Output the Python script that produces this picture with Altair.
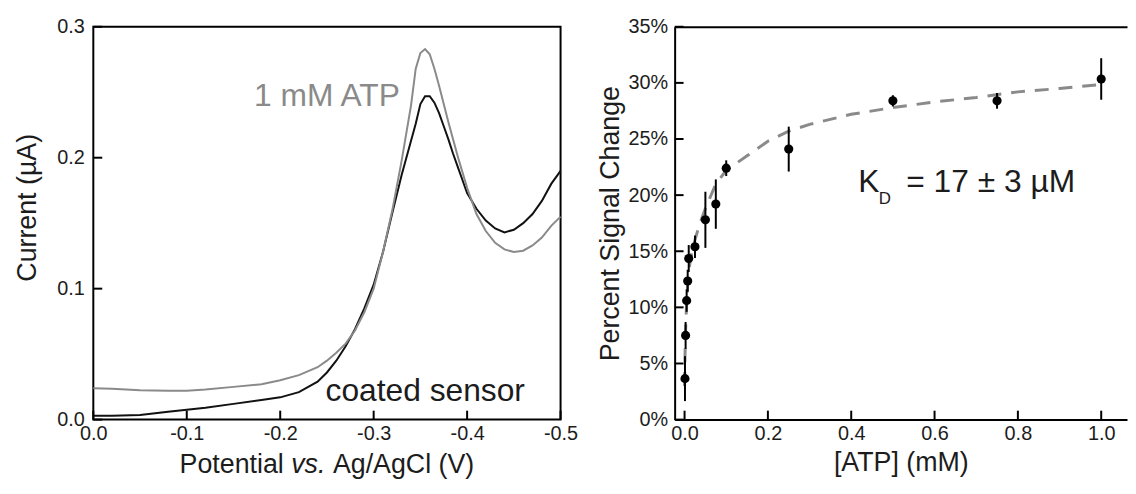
import altair as alt
import pandas as pd

FONT = "Liberation Sans"
INK = "#1c1c1c"
GRAY = "#8a8a8a"

# ---------------- left panel: voltammograms ----------------
atp_potential = [0.0, -0.02, -0.05, -0.08, -0.10, -0.12, -0.15, -0.18, -0.20, -0.22,
                 -0.24, -0.25, -0.26, -0.27, -0.28, -0.29, -0.30, -0.31, -0.32, -0.33,
                 -0.34, -0.345, -0.35, -0.355, -0.36, -0.365, -0.37, -0.375, -0.38, -0.385,
                 -0.39, -0.395, -0.40, -0.41, -0.42, -0.43, -0.44, -0.45, -0.46, -0.47,
                 -0.48, -0.49, -0.50]
atp_current = [0.024, 0.0235, 0.0225, 0.022, 0.022, 0.023, 0.025, 0.027, 0.030, 0.034,
               0.040, 0.045, 0.051, 0.058, 0.068, 0.082, 0.100, 0.128, 0.160, 0.198,
               0.240, 0.268, 0.280, 0.283, 0.279, 0.268, 0.255, 0.241, 0.227, 0.214,
               0.201, 0.189, 0.177, 0.157, 0.144, 0.135, 0.130, 0.128, 0.129, 0.133,
               0.139, 0.148, 0.155]

coated_potential = atp_potential
coated_current = [0.003, 0.003, 0.0035, 0.006, 0.0075, 0.009, 0.012, 0.015, 0.017, 0.021,
                  0.029, 0.036, 0.045, 0.056, 0.069, 0.085, 0.103, 0.128, 0.158, 0.187,
                  0.213, 0.226, 0.241, 0.247, 0.247, 0.242, 0.234, 0.224, 0.214, 0.203,
                  0.193, 0.183, 0.173, 0.161, 0.152, 0.146, 0.143, 0.145, 0.150, 0.157,
                  0.167, 0.180, 0.190]

left_x_ticks = [0.0, -0.1, -0.2, -0.3, -0.4, -0.5]
left_y_ticks = [0.0, 0.1, 0.2, 0.3]

# ---------------- right panel: binding curve ----------------
atp_conc = [0.001, 0.0025, 0.005, 0.0075, 0.01, 0.025, 0.05, 0.075, 0.1, 0.25, 0.5, 0.75, 1.0]
signal_change = [3.65, 7.5, 10.6, 12.35, 14.35, 15.4, 17.8, 19.2, 22.4, 24.1, 28.4, 28.4, 30.35]
signal_err = [2.0, 1.2, 1.0, 1.0, 1.2, 1.0, 2.5, 2.2, 0.7, 2.0, 0.5, 0.7, 1.85]

fit_conc = [0.0, 0.001, 0.0025, 0.005, 0.0075, 0.01, 0.015, 0.02, 0.025, 0.035, 0.05,
            0.075, 0.1, 0.15, 0.2, 0.25, 0.3, 0.4, 0.5, 0.6, 0.7, 0.8, 0.9, 1.0]
fit_signal = [3.0, 5.5, 8.0, 10.5, 12.0, 13.2, 14.5, 15.3, 16.0, 17.3, 18.8,
              21.0, 22.2, 23.5, 24.8, 25.7, 26.3, 27.2, 27.8, 28.3, 28.7, 29.2, 29.5, 29.85]

right_x_ticks = [0.0, 0.2, 0.4, 0.6, 0.8, 1.0]
right_y_ticks = [0, 5, 10, 15, 20, 25, 30, 35]

# ---------------- tables ----------------
df_atp = pd.DataFrame({"E": atp_potential, "I": atp_current})
df_coated = pd.DataFrame({"E": coated_potential, "I": coated_current})
df_pts = pd.DataFrame({"c": atp_conc, "s": signal_change, "e": signal_err})
df_pts["lo"] = df_pts["s"] - df_pts["e"]
df_pts["hi"] = df_pts["s"] + df_pts["e"]
df_fit = pd.DataFrame({"c": fit_conc, "s": fit_signal})

df_lxt = pd.DataFrame({"v": left_x_ticks})
df_lyt = pd.DataFrame({"v": left_y_ticks})
df_rxt = pd.DataFrame({"v": right_x_ticks})
df_ryt = pd.DataFrame({"v": right_y_ticks})

lab_atp = pd.DataFrame({"E": [-0.328], "I": [0.2394], "t": ["1 mM ATP"]})
lab_coated = pd.DataFrame({"E": [-0.2485], "I": [0.0144], "t": ["coated sensor"]})
lab_k = pd.DataFrame({"c": [0.4167], "s": [20.25], "t": ["K"]})
lab_d = pd.DataFrame({"c": [0.466], "s": [19.2], "t": ["D"]})
lab_rest = pd.DataFrame({"c": [0.532], "s": [20.25], "t": ["= 17 ± 3 µM"]})

# x-axis title of the left panel, in three pieces ("vs." is italic)
ttl_a = pd.DataFrame({"t": ["Potential"]})
ttl_b = pd.DataFrame({"t": ["vs."]})
ttl_c = pd.DataFrame({"t": ["Ag/AgCl (V)"]})

LW, LH = 471, 396
RW = 456
X_MIN_R = -0.0238
TITLE_FS = 27

common = dict(grid=False, labelFont=FONT, titleFont=FONT, labelColor=INK, titleColor=INK,
              labelFontSize=20, titleFontSize=TITLE_FS, titleFontWeight="normal")

TICK = 9

# ---- left ----
xL = alt.Scale(domain=[-0.5, 0], reverse=True, nice=False, zero=False)
yL = alt.Scale(domain=[0, 0.3], nice=False, zero=False)

lx_main = alt.Axis(orient="bottom", values=left_x_ticks,
                   labelExpr="datum.value == 0 ? '0.0' : '-' + format(abs(datum.value), '.1f')",
                   ticks=False, domain=False, labelPadding=4, labelFlush=False, labelOverlap=False,
                   title=None, **common)
ly_main = alt.Axis(orient="left", values=left_y_ticks, format=".1f", ticks=False, domain=False,
                   labelPadding=9, labelOverlap=False, title="Current (µA)", titlePadding=15,
                   titleY=182, **common)

coated_line = alt.Chart(df_coated).mark_line(color="#111111", strokeWidth=2).encode(
    x=alt.X("E:Q", scale=xL, axis=lx_main),
    y=alt.Y("I:Q", scale=yL, axis=ly_main),
)
atp_line = alt.Chart(df_atp).mark_line(color=GRAY, strokeWidth=2).encode(
    x=alt.X("E:Q", scale=xL, axis=None),
    y=alt.Y("I:Q", scale=yL, axis=None),
)
lx_ticks = alt.Chart(df_lxt).mark_rule(color="black", strokeWidth=2).encode(
    x=alt.X("v:Q", scale=xL, axis=None),
    y=alt.value(LH), y2=alt.value(LH - TICK),
)
ly_ticks = alt.Chart(df_lyt).mark_rule(color="black", strokeWidth=2).encode(
    y=alt.Y("v:Q", scale=yL, axis=None),
    x=alt.value(0), x2=alt.value(TICK),
)
t_atp = alt.Chart(lab_atp).mark_text(font=FONT, fontSize=32, color=GRAY, align="right",
                                     baseline="alphabetic").encode(
    x=alt.X("E:Q", scale=xL, axis=None), y=alt.Y("I:Q", scale=yL, axis=None), text="t:N")
t_coated = alt.Chart(lab_coated).mark_text(font=FONT, fontSize=32, color=INK, align="left",
                                           baseline="alphabetic").encode(
    x=alt.X("E:Q", scale=xL, axis=None), y=alt.Y("I:Q", scale=yL, axis=None), text="t:N")

# title pieces: widths from Arial/Liberation metrics (em units)
w_a = (3.891 + 0.278) * TITLE_FS
w_b = (1.278 + 0.278) * TITLE_FS
w_c = 5.279 * TITLE_FS
x0 = LW / 2 - (w_a + w_b + w_c) / 2
TY = LH + 54
tt_a = alt.Chart(ttl_a).mark_text(font=FONT, fontSize=TITLE_FS, color=INK, align="left",
                                  baseline="alphabetic").encode(
    x=alt.value(x0), y=alt.value(TY), text="t:N")
tt_b = alt.Chart(ttl_b).mark_text(font=FONT, fontSize=TITLE_FS, color=INK, align="left",
                                  baseline="alphabetic", fontStyle="italic").encode(
    x=alt.value(x0 + w_a), y=alt.value(TY), text="t:N")
tt_c = alt.Chart(ttl_c).mark_text(font=FONT, fontSize=TITLE_FS, color=INK, align="left",
                                  baseline="alphabetic").encode(
    x=alt.value(x0 + w_a + w_b), y=alt.value(TY), text="t:N")

left = alt.layer(coated_line, atp_line, lx_ticks, ly_ticks, t_atp, t_coated,
                 tt_a, tt_b, tt_c).resolve_axis(
    x="independent", y="independent").properties(
    width=LW, height=LH, view=alt.ViewBackground(stroke="black", strokeWidth=2))

# ---- right ----
xR = alt.Scale(domain=[X_MIN_R, X_MIN_R + RW / 420.0], nice=False, zero=False)
yR = alt.Scale(domain=[0, 35], nice=False, zero=False)

rx_main = alt.Axis(orient="bottom", values=right_x_ticks, format=".1f", ticks=False, domain=True,
                   domainColor="black", domainWidth=2, labelPadding=4, labelFlush=False,
                   labelOverlap=False, title="[ATP] (mM)", titlePadding=6, **common)
ry_main = alt.Axis(orient="left", values=right_y_ticks, labelExpr="datum.value + '%'", ticks=False,
                   domain=True, domainColor="black", domainWidth=2, labelPadding=7,
                   labelOverlap=False, title="Percent Signal Change", titlePadding=4, **common)
top_axis = alt.Axis(orient="top", labels=False, ticks=False, domain=True, domainColor="black",
                    domainWidth=2, grid=False, title=None)

fit_line = alt.Chart(df_fit).mark_line(color=GRAY, strokeWidth=3, strokeDash=[14, 10]).encode(
    x=alt.X("c:Q", scale=xR, axis=rx_main),
    y=alt.Y("s:Q", scale=yR, axis=ry_main),
)
err = alt.Chart(df_pts).mark_rule(color="black", strokeWidth=2).encode(
    x=alt.X("c:Q", scale=xR, axis=None),
    y=alt.Y("lo:Q", scale=yR, axis=None),
    y2="hi:Q",
)
pts = alt.Chart(df_pts).mark_point(filled=True, color="black", size=85, opacity=1).encode(
    x=alt.X("c:Q", scale=xR, axis=top_axis),
    y=alt.Y("s:Q", scale=yR, axis=None),
)
rx_ticks = alt.Chart(df_rxt).mark_rule(color="black", strokeWidth=2).encode(
    x=alt.X("v:Q", scale=xR, axis=None),
    y=alt.value(LH), y2=alt.value(LH - TICK),
)
ry_ticks = alt.Chart(df_ryt).mark_rule(color="black", strokeWidth=2).encode(
    y=alt.Y("v:Q", scale=yR, axis=None),
    x=alt.value(0), x2=alt.value(TICK),
)
t_k = alt.Chart(lab_k).mark_text(font=FONT, fontSize=32, color=INK, align="left",
                                 baseline="alphabetic").encode(
    x=alt.X("c:Q", scale=xR, axis=None), y=alt.Y("s:Q", scale=yR, axis=None), text="t:N")
t_d = alt.Chart(lab_d).mark_text(font=FONT, fontSize=17, color=INK, align="left",
                                 baseline="alphabetic").encode(
    x=alt.X("c:Q", scale=xR, axis=None), y=alt.Y("s:Q", scale=yR, axis=None), text="t:N")
t_rest = alt.Chart(lab_rest).mark_text(font=FONT, fontSize=32, color=INK, align="left",
                                       baseline="alphabetic").encode(
    x=alt.X("c:Q", scale=xR, axis=None), y=alt.Y("s:Q", scale=yR, axis=None), text="t:N")

right = alt.layer(fit_line, err, pts, rx_ticks, ry_ticks, t_k, t_d, t_rest).resolve_axis(
    x="independent", y="independent").properties(
    width=RW, height=LH, view=alt.ViewBackground(stroke="transparent"))

chart = alt.hconcat(left, right, spacing=16).properties(
    padding={"left": 5, "top": 6, "right": 0, "bottom": 3},
    background="white",
).configure_view(stroke="black")

chart.save("out.html", embed_options={"renderer": "svg", "actions": False})
